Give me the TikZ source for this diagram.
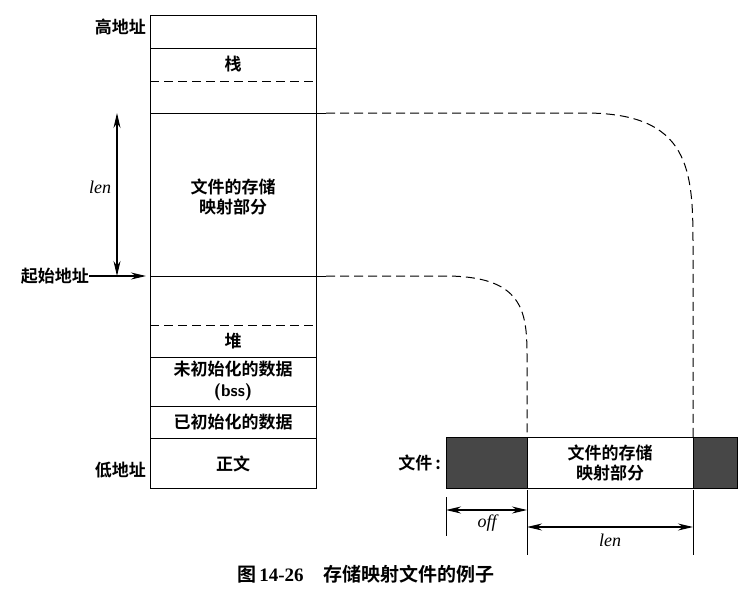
\documentclass[tikz,border=0pt]{standalone}
\usepackage{fontspec}
\setmainfont{Liberation Serif}
\newfontfamily\cjk{Noto Sans CJK SC}[BoldFont={Noto Sans CJK SC Bold}]
\usetikzlibrary{arrows.meta}
\begin{document}
\begin{tikzpicture}[x=1pt,y=-1pt,
  lbl/.style={font=\cjk\bfseries\fontsize{17}{20.5}\selectfont, inner sep=0pt, align=center},
  ital/.style={font=\itshape\fontsize{18}{20}\selectfont, inner sep=0pt},
  thinline/.style={line width=1pt},
  dashline/.style={line width=1pt, dash pattern=on 9pt off 5pt},
  arr/.style={line width=1.1pt, -{Stealth[length=15pt,width=7pt]}},
  darr/.style={line width=1.1pt, {Stealth[length=15pt,width=7pt]}-{Stealth[length=15pt,width=7pt]}},
  shade/.style={fill=black!72, draw=black, line width=1pt}]
\useasboundingbox (0,0) rectangle (750,590);
% memory box
\draw[thinline] (150,15) rectangle (316,488);
\draw[thinline] (150,48) -- (316,48);
\draw[dashline] (150,81) -- (316,81);
\draw[thinline] (150,113) -- (326,113);
\draw[thinline] (150,276) -- (326,276);
\draw[dashline] (150,325) -- (316,325);
\draw[thinline] (150,357) -- (316,357);
\draw[thinline] (150,406) -- (316,406);
\draw[thinline] (150,438) -- (316,438);
% texts in box
\node[lbl] (stack) at (233,64) {栈};
\node[lbl] (map) at (233,197) {文件的存储\\映射部分};
\node[lbl] (heap) at (233,341) {堆};
\node[lbl] (bss) at (233,381) {未初始化的数据\\{\sffamily\bfseries (bss)}};
\node[lbl] (data) at (233,422) {已初始化的数据};
\node[lbl] (text) at (233,464) {正文};
% left labels
\node[lbl, anchor=east] (high) at (146,27) {高地址};
\node[lbl, anchor=east] (low) at (146,470) {低地址};
\node[lbl, anchor=east] (start) at (89,276) {起始地址};
\coordinate (startend) at (146,276);
\draw[arr] (start.east) -- (startend);
\coordinate (lentop) at (117,113);
\coordinate (lenbot) at (117,276);
\draw[darr] (lentop) -- (lenbot);
\node[ital] (lenL) at (100,187) {len};
% file bar
\node[lbl, anchor=east] (file) at (441,463) {文件\,:};
\draw[shade] (446,437) rectangle (527,488);
\draw[shade] (693,437) rectangle (737,488);
\draw[thinline] (527,437) rectangle (693,488);
\node[lbl] (fmap) at (610,463) {文件的存储\\映射部分};
% dashed curves
\coordinate (a1) at (326,113);
\coordinate (a2) at (693,437);
\draw[dashline] (a1) -- (585,113) .. controls (690,113) and (693,170) .. (693,245) -- (a2);
\coordinate (b1) at (326,276);
\coordinate (b2) at (527,437);
\draw[dashline] (b1) -- (445,276) .. controls (522,276) and (527,310) .. (527,355) -- (b2);
% dimension lines
\draw[thinline] (446,497) -- (446,536);
\draw[thinline] (527,490) -- (527,555);
\draw[thinline] (693,490) -- (693,555);
\coordinate (o1) at (446,510);
\coordinate (o2) at (527,510);
\draw[darr] (o1) -- (o2);
\node[ital] (off) at (487,523) {off};
\coordinate (l1) at (527,527);
\coordinate (l2) at (693,527);
\draw[darr] (l1) -- (l2);
\node[ital] (len2) at (610,540) {len};
% caption
\node[inner sep=0pt, font=\cjk\bfseries\fontsize{19}{22}\selectfont] (cap) at (366,574) {图\,{\rmfamily\bfseries 14-26}\hspace{20pt}存储映射文件的例子};
\end{tikzpicture}
\end{document}
